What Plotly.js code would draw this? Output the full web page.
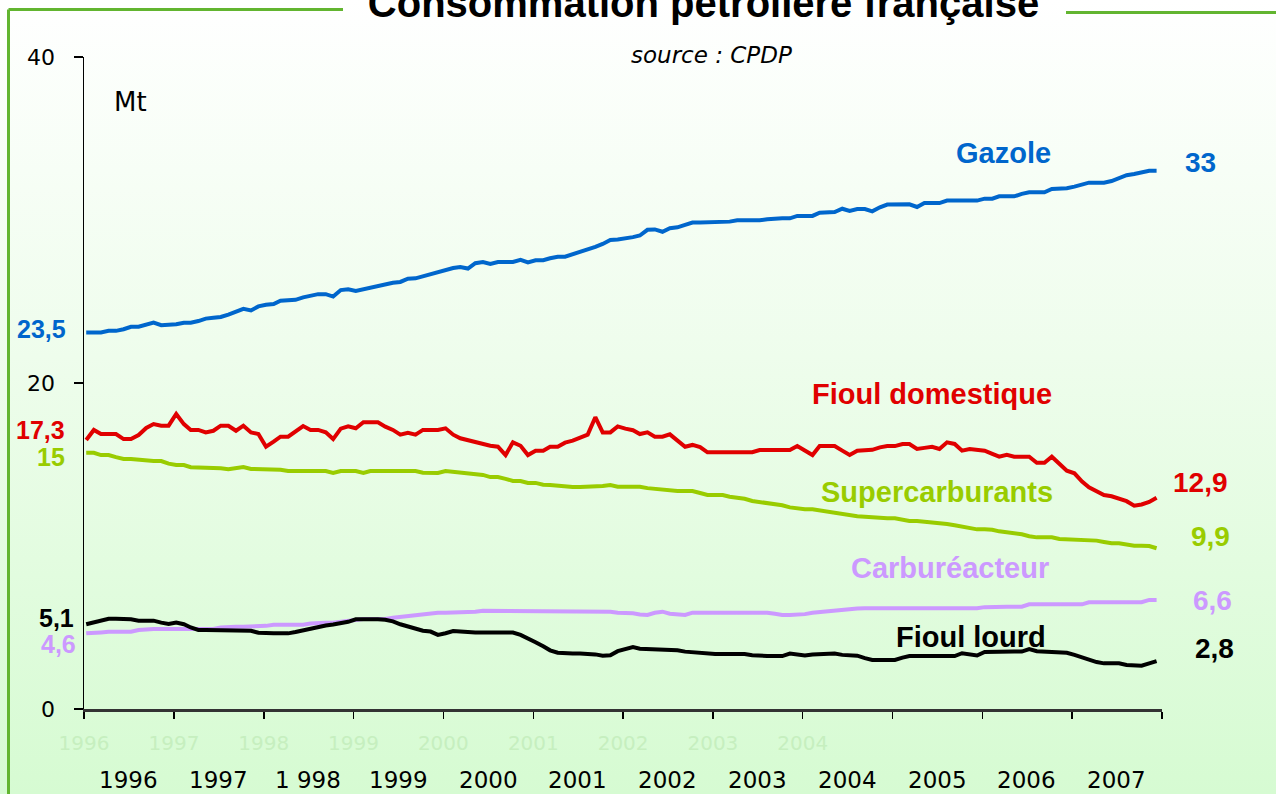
<!DOCTYPE html>
<html>
<head>
<meta charset="utf-8">
<script src="https://cdn.plot.ly/plotly-3.0.1.min.js"></script>
<style>
  html, body { margin: 0; padding: 0; }
  #chart { width: 1276px; height: 794px; background: linear-gradient(to bottom, #ffffff 0%, #eefdec 45%, #d6fbd2 100%); }
</style>
</head>
<body>
<div id="chart"></div>
<script>
// ---------- DATA (Mt, monthly rolling totals, Jan 1996 - Dec 2007) ----------
const years = [1996, 1997, 1998, 1999, 2000, 2001, 2002, 2003, 2004, 2005, 2006, 2007];
const yearLabels = ['1996', '1997', '1 998', '1999', '2000', '2001', '2002', '2003', '2004', '2005', '2006', '2007'];
const faintTickLabels = ['1996', '1997', '1998', '1999', '2000', '2001', '2002', '2003', '2004', '', '', '', ''];

const seriesNames = ['Gazole', 'Fioul domestique', 'Supercarburants', 'Carburéacteur', 'Fioul lourd'];
const startLabels = ['23,5', '17,3', '15', '4,6', '5,1'];
const endLabels = ['33', '12,9', '9,9', '6,6', '2,8'];

const gazole = [
  23.1, 23.1, 23.1, 23.2, 23.2, 23.3, 23.45, 23.45, 23.6, 23.7, 23.55, 23.55,
  23.6, 23.7, 23.7, 23.8, 23.95, 24.0, 24.05, 24.2, 24.35, 24.55, 24.45, 24.7,
  24.8, 24.85, 25.05, 25.05, 25.1, 25.25, 25.35, 25.45, 25.45, 25.3, 25.7, 25.75,
  25.65, 25.75, 25.9, 26.0, 26.05, 26.15, 26.2, 26.4, 26.42, 26.55, 26.65, 26.8,
  26.95, 27.05, 27.12, 27.02, 27.35, 27.42, 27.3, 27.42, 27.42, 27.42, 27.55, 27.4,
  27.53, 27.53, 27.65, 27.75, 27.75, 27.9, 28.05, 28.15, 28.35, 28.53, 28.77, 28.8,
  28.85, 28.95, 29.05, 29.4, 29.42, 29.28, 29.5, 29.55, 29.7, 29.84, 29.84, 29.84,
  29.84, 29.84, 29.9, 29.98, 29.98, 29.98, 29.98, 30.05, 30.1, 30.1, 30.1, 30.25,
  30.25, 30.25, 30.45, 30.49, 30.49, 30.69, 30.55, 30.67, 30.67, 30.53, 30.78, 30.95,
  30.96, 30.96, 30.96, 30.8, 31.04, 31.04, 31.04, 31.19, 31.19, 31.19, 31.19, 31.19,
  31.31, 31.31, 31.45, 31.45, 31.45, 31.6, 31.7, 31.7, 31.7, 31.9, 31.9, 31.95,
  32.05, 32.17, 32.29, 32.29, 32.29, 32.39, 32.6, 32.75, 32.82, 32.9, 33.02, 33.02
];
const fioulDomestique = [
  16.5, 17.12, 16.87, 16.87, 16.87, 16.56, 16.56, 16.81, 17.24, 17.48, 17.38, 17.38,
  18.1, 17.48, 17.12, 17.12, 16.97, 17.07, 17.38, 17.38, 17.07, 17.38, 16.97, 16.87,
  16.09, 16.4, 16.71, 16.71, 17.01, 17.36, 17.12, 17.12, 16.97, 16.56, 17.2, 17.34,
  17.22, 17.59, 17.59, 17.59, 17.32, 17.12, 16.83, 16.95, 16.83, 17.12, 17.12, 17.12,
  17.22, 16.83, 16.61, 16.5, 16.4, 16.24, 16.15, 16.09, 15.58, 16.36, 16.15, 15.58,
  15.85, 15.85, 16.09, 16.09, 16.34, 16.46, 16.67, 16.83, 17.9, 16.97, 16.97, 17.34,
  17.2, 17.1, 16.87, 16.97, 16.71, 16.71, 16.85, 16.5, 16.09, 16.2, 16.07, 15.75,
  15.75, 15.75, 15.75, 15.75, 15.75, 15.75, 15.89, 15.89, 15.89, 15.89, 15.89, 16.13,
  15.85, 15.58, 16.13, 16.13, 16.13, 15.85, 15.58, 15.85, 15.85, 15.9, 16.05, 16.13,
  16.13, 16.26, 16.26, 15.95, 16.02, 16.09, 15.95, 16.36, 16.26, 15.85, 15.95, 15.9,
  15.85, 15.65, 15.48, 15.6, 15.48, 15.48, 15.48, 15.11, 15.11, 15.48, 15.07, 14.62,
  14.46, 13.95, 13.6, 13.37, 13.13, 13.05, 12.9, 12.75, 12.47, 12.55, 12.7, 12.96
];
const supercarburants = [
  15.72, 15.72, 15.58, 15.58, 15.45, 15.34, 15.34, 15.28, 15.21, 15.21, 15.21, 15.05,
  14.97, 14.97, 14.83, 14.83, 14.83, 14.83, 14.77, 14.71, 14.75, 14.85, 14.73, 14.73,
  14.73, 14.73, 14.68, 14.6, 14.6, 14.6, 14.6, 14.6, 14.6, 14.48, 14.6, 14.6,
  14.6, 14.48, 14.6, 14.6, 14.6, 14.6, 14.6, 14.6, 14.6, 14.5, 14.48, 14.48,
  14.6, 14.55, 14.48, 14.45, 14.36, 14.36, 14.23, 14.23, 14.12, 13.99, 13.99, 13.87,
  13.87, 13.76, 13.74, 13.68, 13.62, 13.62, 13.62, 13.62, 13.62, 13.68, 13.74, 13.64,
  13.64, 13.64, 13.64, 13.55, 13.5, 13.5, 13.45, 13.37, 13.37, 13.37, 13.25, 13.13,
  13.13, 13.13, 13.02, 12.99, 12.9, 12.76, 12.7, 12.66, 12.62, 12.5, 12.37, 12.3,
  12.25, 12.25, 12.18, 12.1, 12.05, 12.01, 11.92, 11.83, 11.8, 11.75, 11.7, 11.7,
  11.7, 11.58, 11.53, 11.53, 11.5, 11.45, 11.4, 11.35, 11.27, 11.18, 11.1, 11.02,
  11.02, 11.0, 10.9, 10.85, 10.82, 10.72, 10.6, 10.53, 10.53, 10.53, 10.43, 10.41,
  10.41, 10.38, 10.33, 10.33, 10.25, 10.17, 10.17, 10.1, 10.02, 10.02, 10.0, 9.86
];
const carbureacteur = [
  4.64, 4.64, 4.7, 4.74, 4.74, 4.74, 4.74, 4.85, 4.91, 4.91, 4.91, 4.91,
  4.91, 4.91, 4.95, 4.97, 4.93, 4.91, 5.0, 5.05, 5.05, 5.05, 5.05, 5.05,
  5.1, 5.17, 5.17, 5.17, 5.17, 5.17, 5.25, 5.29, 5.29, 5.29, 5.36, 5.42,
  5.47, 5.52, 5.52, 5.52, 5.52, 5.6, 5.66, 5.7, 5.75, 5.83, 5.91, 5.91,
  5.91, 5.91, 5.91, 5.91, 5.97, 6.03, 6.03, 6.03, 6.03, 6.03, 6.03, 6.03,
  6.03, 6.03, 6.03, 6.03, 6.03, 6.03, 6.03, 6.03, 6.03, 6.03, 5.97, 5.91,
  5.9, 5.87, 5.8, 5.77, 5.9, 5.97, 5.85, 5.79, 5.77, 5.91, 5.91, 5.91,
  5.91, 5.91, 5.91, 5.91, 5.91, 5.91, 5.91, 5.91, 5.84, 5.77, 5.77, 5.77,
  5.82, 5.9, 5.95, 6.01, 6.04, 6.07, 6.12, 6.16, 6.18, 6.18, 6.18, 6.18,
  6.18, 6.18, 6.18, 6.18, 6.18, 6.18, 6.18, 6.18, 6.18, 6.18, 6.18, 6.18,
  6.25, 6.28, 6.28, 6.28, 6.28, 6.28, 6.42, 6.42, 6.42, 6.42, 6.42, 6.42,
  6.42, 6.42, 6.55, 6.55, 6.55, 6.55, 6.55, 6.55, 6.55, 6.55, 6.69, 6.69
];
const fioulLourd = [
  5.2, 5.3, 5.45, 5.54, 5.54, 5.54, 5.5, 5.42, 5.42, 5.42, 5.3, 5.22,
  5.31, 5.2, 5.0, 4.85, 4.85, 4.84, 4.82, 4.8, 4.8, 4.8, 4.8, 4.68,
  4.64, 4.64, 4.64, 4.64, 4.72, 4.82, 4.95, 5.05, 5.12, 5.18, 5.24, 5.35,
  5.5, 5.52, 5.52, 5.5, 5.48, 5.38, 5.2, 5.06, 4.88, 4.8, 4.75, 4.55,
  4.65, 4.78, 4.75, 4.69, 4.69, 4.69, 4.69, 4.69, 4.69, 4.69, 4.55, 4.35,
  4.1, 3.85, 3.6, 3.45, 3.41, 3.41, 3.41, 3.41, 3.35, 3.27, 3.3, 3.55,
  3.7, 3.8, 3.7, 3.68, 3.68, 3.68, 3.68, 3.6, 3.52, 3.47, 3.42, 3.37,
  3.37, 3.37, 3.37, 3.37, 3.37, 3.3, 3.25, 3.25, 3.25, 3.25, 3.4, 3.35,
  3.28, 3.35, 3.38, 3.4, 3.4, 3.32, 3.3, 3.27, 3.12, 3.01, 3.01, 3.01,
  3.01, 3.15, 3.25, 3.25, 3.25, 3.25, 3.25, 3.25, 3.25, 3.42, 3.35, 3.28,
  3.5, 3.52, 3.52, 3.52, 3.52, 3.52, 3.68, 3.55, 3.52, 3.52, 3.52, 3.45,
  3.32, 3.15, 3.0, 2.88, 2.8, 2.8, 2.8, 2.7, 2.66, 2.66, 2.8, 2.94
];

// ---------- STYLE ----------
const colors = ['#0066cc', '#e00000', '#99cc00', '#cc99ff', '#000000'];
const seriesValues = [gazole, fioulDomestique, supercarburants, carbureacteur, fioulLourd];

// monthly category dates (one per month)
const months = [];
years.forEach(y => { for (let m = 1; m <= 12; m++) months.push(y + '-' + String(m).padStart(2, '0') + '-10'); });

// pixel helpers for decorative placement (plot area: x 84..1162, y 57..709)
const PL = 84, PR = 1162, PT = 57, PB = 709;
const px = x => (x - PL) / (PR - PL);
const py = y => (PB - y) / (PB - PT);

const traces = seriesValues.map((vals, k) => ({
  type: 'scatter', mode: 'lines', x: months, y: vals, name: seriesNames[k],
  line: { color: colors[k], width: 4, shape: 'linear' }, hoverinfo: 'skip'
}));

const boldFont = (size, color) => ({ family: 'Liberation Sans, Arial, sans-serif', size: size, color: color, weight: 'bold' });
const regFont = (size, color) => ({ family: 'DejaVu Sans, Verdana, sans-serif', size: size, color: color });

const namePos = [[1003, 153], [932, 394], [937, 492], [950, 568], [971, 637]];
const endPos = [[1200, 163], [1200, 482], [1210, 536], [1212, 600], [1214, 648]];
const startPos = [[68, 329], [67, 430], [67, 457.5], [77.5, 644], [75.5, 617.5]];

const annotations = [];
seriesNames.forEach((n, k) => {
  annotations.push({ text: '<b>' + n + '</b>', xref: 'paper', yref: 'paper', x: px(namePos[k][0]), y: py(namePos[k][1]),
    xanchor: 'center', yanchor: 'middle', showarrow: false, font: boldFont(29, colors[k]) });
  annotations.push({ text: '<b>' + endLabels[k] + '</b>', xref: 'paper', yref: 'paper', x: px(endPos[k][0]), y: py(endPos[k][1]),
    xanchor: 'center', yanchor: 'middle', showarrow: false, font: boldFont(28, colors[k]) });
  annotations.push({ text: '<b>' + startLabels[k] + '</b>', xref: 'paper', yref: 'paper', x: px(startPos[k][0]), y: py(startPos[k][1]),
    xanchor: 'right', yanchor: 'middle', showarrow: false, font: boldFont(25, colors[k]) });
});
years.forEach((y, k) => {
  annotations.push({ text: yearLabels[k], xref: 'x', yref: 'paper', x: y + '-07-01', y: 0, yshift: -71,
    xanchor: 'center', yanchor: 'middle', showarrow: false, font: regFont(23, '#000000') });
});
annotations.push({ text: 'Mt', xref: 'paper', yref: 'paper', x: px(130), y: py(102), xanchor: 'center', yanchor: 'middle',
  showarrow: false, font: regFont(26, '#000000') });
annotations.push({ text: '<i>source : CPDP</i>', xref: 'paper', yref: 'paper', x: px(711.5), y: py(54.5), xanchor: 'center', yanchor: 'middle',
  showarrow: false, font: regFont(23, '#000000') });

const frameColor = '#62b530';
const shapes = [
  { type: 'line', xref: 'paper', yref: 'paper', x0: px(8.5), x1: px(8.5), y0: py(9.5), y1: py(800), line: { color: frameColor, width: 3 } },
  { type: 'line', xref: 'paper', yref: 'paper', x0: px(8.5), x1: px(343), y0: py(9.5), y1: py(9.5), line: { color: frameColor, width: 3 } },
  { type: 'line', xref: 'paper', yref: 'paper', x0: px(1066), x1: px(1280), y0: py(12.5), y1: py(12.5), line: { color: frameColor, width: 3 } }
];

const tickDates = years.concat([2008]).map(y => y + '-01-01');

const layout = {
  width: 1276, height: 794,
  paper_bgcolor: 'rgba(0,0,0,0)', plot_bgcolor: 'rgba(0,0,0,0)',
  margin: { l: PL, r: 1276 - PR, t: PT, b: 794 - PB, pad: 0 },
  showlegend: false,
  title: { text: '<b>Consommation pétrolière française</b>', font: boldFont(40, '#000000'),
    x: 703.5 / 1276, xanchor: 'center', xref: 'container', y: 1 - 2.6 / 794, yanchor: 'middle', yref: 'container' },
  xaxis: {
    type: 'date', range: ['1996-01-01', '2008-01-01'], fixedrange: true,
    tickmode: 'array', tickvals: tickDates, ticktext: faintTickLabels,
    ticks: 'outside', ticklen: 7, tickwidth: 1.5, tickcolor: '#000000',
    tickfont: regFont(20, '#c6efbf'), ticklabelstandoff: 7,
    showline: true, linecolor: '#333333', linewidth: 3, showgrid: false, zeroline: false
  },
  yaxis: {
    range: [0, 40], fixedrange: true, tickmode: 'array', tickvals: [0, 20, 40], ticktext: ['0', '20', '40'],
    ticks: 'outside', ticklen: 9, tickwidth: 1.5, tickcolor: '#000000',
    tickfont: regFont(22, '#000000'), ticklabelstandoff: 14,
    showline: true, linecolor: '#000000', linewidth: 1.5, showgrid: false, zeroline: false
  },
  annotations: annotations,
  shapes: shapes
};

Plotly.newPlot('chart', traces, layout, { staticPlot: true, displayModeBar: false });
</script>
</body>
</html>
